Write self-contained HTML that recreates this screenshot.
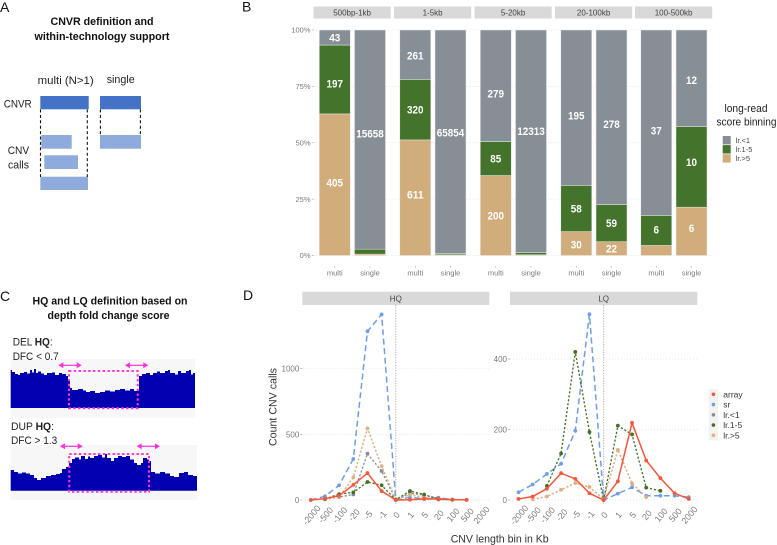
<!DOCTYPE html>
<html lang="en">
<head>
<meta charset="utf-8">
<title>CNVR figure</title>
<style>
html,body{margin:0;padding:0;background:#fff;}
svg{display:block;font-family:"Liberation Sans",sans-serif;filter:blur(.3px);}
.cal{fill:#222;font-size:11px;}
.ttl{fill:#111;font-size:11px;font-weight:bold;text-anchor:middle;}
.pl{fill:#111;font-size:14px;}
.tick{fill:#7a7a7a;font-size:7.5px;}
.strip{fill:#d9d9d9;}
.striptxt{fill:#444;font-size:8px;text-anchor:middle;}
.grid{stroke:#dedede;stroke-width:.7;stroke-dasharray:1 2;fill:none;}
.axt{stroke:#999;stroke-width:.6;}
.val{fill:#fff;font-size:11px;font-weight:bold;text-anchor:middle;}
.leg{fill:#444;font-size:7.5px;}
.dash{stroke:#111;stroke-width:1.1;stroke-dasharray:3 2.4;fill:none;}
.pink{stroke:#ff33dd;stroke-width:2;stroke-dasharray:2.4 2.4;fill:none;}
.arr{stroke:#ff33dd;stroke-width:1.2;fill:none;}
.arh{fill:#ff33dd;}
</style>
</head>
<body>
<svg id="fig" width="777" height="545" viewBox="0 0 777 545" xmlns="http://www.w3.org/2000/svg">
  <rect width="777" height="545" fill="#fff"/>

  <g>
    <text class="pl" x="0" y="12">A</text>
    <text class="ttl" x="102" y="25" textLength="103" lengthAdjust="spacingAndGlyphs">CNVR definition and</text>
    <text class="ttl" x="102" y="40" textLength="135" lengthAdjust="spacingAndGlyphs">within-technology support</text>
    <text class="cal" x="37.7" y="84" textLength="56" lengthAdjust="spacingAndGlyphs">multi (N&gt;1)</text>
    <text class="cal" x="106.7" y="83" textLength="28" lengthAdjust="spacingAndGlyphs">single</text>
    <text class="cal" x="3.7" y="107.5" textLength="28" lengthAdjust="spacingAndGlyphs">CNVR</text>
    <text class="cal" x="7.7" y="154" textLength="21.5" lengthAdjust="spacingAndGlyphs">CNV</text>
    <text class="cal" x="8" y="168.5" textLength="21" lengthAdjust="spacingAndGlyphs">calls</text>
    <rect x="40.3" y="96" width="48.4" height="13.3" fill="#4472c4"/>
    <rect x="100" y="96" width="41" height="13.3" fill="#4472c4"/>
    <rect x="41.3" y="135" width="30.4" height="13.7" fill="#8faadc"/>
    <rect x="44.3" y="155.3" width="33.7" height="13.7" fill="#8faadc"/>
    <rect x="40.3" y="176.7" width="47.7" height="13.3" fill="#8faadc"/>
    <rect x="100" y="135" width="41" height="13.7" fill="#8faadc"/>
    <path class="dash" d="M40.5 109.5V177M87.3 109.5V177M100.4 109.5V135M140.4 109.5V135"/>
  </g>

  <g>
    <text class="pl" x="0" y="301">C</text>
    <text class="ttl" x="110" y="304.5" textLength="155" lengthAdjust="spacingAndGlyphs">HQ and LQ definition based on</text>
    <text class="ttl" x="108.5" y="319" textLength="122" lengthAdjust="spacingAndGlyphs">depth fold change score</text>
    <rect x="10.7" y="359" width="184.3" height="59" fill="#f7f7f7"/>
    <text class="cal" x="12.7" y="345.5" textLength="40" lengthAdjust="spacingAndGlyphs">DEL <tspan font-weight="bold">HQ</tspan>:</text>
    <text class="cal" x="12.7" y="360" textLength="46" lengthAdjust="spacingAndGlyphs">DFC &lt; 0.7</text>
    <polygon fill="#0000b0" points="10.7,408 10.7,370 12,370 12,372 15,372 15,374 18,374 18,375 20,375 20,373 24,373 24,372 27,372 27,373.5 30,373.5 30,370 32,370 32,372.5 34,372.5 34,369 36,369 36,373 38,373 38,371.5 41,371.5 41,373.5 44,373.5 44,375 47,375 47,373 52,373 52,372.5 55,372.5 55,375 59,375 59,373 62,373 62,374 66,374 66,376 68,376 68,381 70,381 70,388 72,388 72,390 78,390 78,389 83,389 83,390.5 86,390.5 86,392 90,392 90,391 95,391 95,393 100,393 100,392 105,392 105,390.5 110,390.5 110,391.5 115,391.5 115,390 120,390 120,389 125,389 125,390.5 130,390.5 130,389 134,389 134,391 137,391 137,390 139,390 139,376 142,376 142,374 146,374 146,373 150,373 150,375 153,375 153,373 157,373 157,371.5 160,371.5 160,373 165,373 165,371 168,371 168,370 170,370 170,373 175,373 175,374.5 178,374.5 178,371 181,371 181,373 186,373 186,371 189,371 189,370 191,370 191,374.5 193,374.5 193,373 195,373 195,408"/>
    <rect class="pink" x="69" y="371" width="68.7" height="37.3"/>
    <g><path class="arr" d="M62 365.3H78"/><path class="arh" d="M58.3 365.3l5-3v6zM81.7 365.3l-5-3v6z"/></g>
    <g><path class="arr" d="M129 365.3H145"/><path class="arh" d="M125 365.3l5-3v6zM148.3 365.3l-5-3v6z"/></g>

    <rect x="10.7" y="445" width="186.3" height="55" fill="#f7f7f7"/>
    <text class="cal" x="11" y="430" textLength="43" lengthAdjust="spacingAndGlyphs">DUP <tspan font-weight="bold">HQ</tspan>:</text>
    <text class="cal" x="11" y="444" textLength="46.3" lengthAdjust="spacingAndGlyphs">DFC &gt; 1.3</text>
    <polygon fill="#0000b0" points="10.7,490.7 10.7,470 14,470 14,472 18,472 18,473.5 22,473.5 22,472.5 26,472.5 26,473.5 30,473.5 30,475 34,475 34,478 37,478 37,480 41,480 41,478 46,478 46,476 51,476 51,475 56,475 56,474 60,474 60,473 62,473 62,469 66,469 66,467 69,467 69,463 72,463 72,459 75,459 75,457.5 79,457.5 79,459.5 81,459.5 81,456 85,456 85,459 88,459 88,456.5 90,456.5 90,458 94,458 94,456 98,456 98,455 102,455 102,457.5 105,457.5 105,454 107,454 107,458 111,458 111,461 114,461 114,458 118,458 118,456 122,456 122,457 126,457 126,456 130,456 130,459.5 134,459.5 134,463 137,463 137,465 141,465 141,463 143,463 143,458 147,458 147,459.5 149,459.5 149,461 151,461 151,472 155,472 155,473.5 160,473.5 160,472 165,472 165,473.5 170,473.5 170,476 174,476 174,477 179,477 179,473 184,473 184,472 188,472 188,475 193,475 193,476 197,476 197,490.7"/>
    <rect class="pink" x="69.3" y="454" width="79.7" height="37.7"/>
    <g><path class="arr" d="M64 446.3H79"/><path class="arh" d="M60 446.3l5-3v6zM82.7 446.3l-5-3v6z"/></g>
    <g><path class="arr" d="M141 446.3H156"/><path class="arh" d="M136.7 446.3l5-3v6zM160 446.3l-5-3v6z"/></g>
  </g>

  <text class="pl" x="242" y="11.5">B</text>
  <text class="pl" x="243" y="300">D</text>
  <g id="panelB"></g>
  <g id="panelD"></g>
</svg>

<script>
/* ---- Panel B data ---- */
const binLabels = ['500bp-1kb', '1-5kb', '5-20kb', '20-100kb', '100-500kb'];
const groupLabels = ['multi', 'single'];
const percentTicks = [0, 25, 50, 75, 100];
const lrLowCounts  = [43, 15658, 261, 65854, 279, 12313, 195, 278, 37, 12];
const lrMidCounts  = [197, 350, 320, 400, 85, 125, 58, 59, 6, 10];
const lrHighCounts = [405, 100, 611, 200, 200, 40, 30, 22, 2, 6];
const stackNames = ['lr.>5', 'lr.1-5', 'lr.<1'];

/* ---- Panel D data ---- */
const lengthBins = ['-2000', '-500', '-100', '-20', '-5', '-1', '0', '1', '5', '20', '100', '500', '2000'];
const hqTicks = [0, 500, 1000];
const lqTicks = [0, 200, 400];
const seriesNames = ['array', 'sr', 'lr.<1', 'lr.1-5', 'lr.>5'];
const hqArray = [0, 10, 33, 115, 205, 68, 0, 2, 8, 8, 3, 1, null];
const hqSr    = [0, 28, 112, 312, 1285, 1414, 0, 20, 10, 18, 3, 2, null];
const hqLow   = [null, 5, 22, 42, 353, 220, 2, 52, 38, 12, 2, 1, null];
const hqMid   = [null, 8, 45, 58, 137, 112, 3, 68, 42, 5, 2, null, null];
const hqHigh  = [null, 8, 25, 172, 545, 258, 5, 40, 20, 5, 1, null, null];
const lqArray = [3, 10, 32, 76, 60, 19, 0, 53, 219, 112, 62, 19, 3];
const lqSr    = [22, 44, 74, 103, 196, 527, 0, 18, 36, 12, 12, 12, 8];
const lqLow   = [null, null, null, null, null, null, null, null, null, null, null, null, null];
const lqMid   = [null, null, 40, 132, 420, 193, 0, 211, 186, 35, 26, null, null];
const lqHigh  = [null, 2, 10, 29, 48, 37, 2, 142, 47, 8, null, null, null];

/* ---- helpers ---- */
const NS = 'http://www.w3.org/2000/svg';
function make(parent, tag, attrs, text) {
  const el = document.createElementNS(NS, tag);
  for (const k in attrs) el.setAttribute(k, attrs[k]);
  if (text !== undefined) el.textContent = text;
  parent.appendChild(el);
  return el;
}
function slug(s) {
  return String(s).replace('<', 'lt-').replace('>', 'gt-').replace(/[^a-zA-Z0-9-]+/g, '-').toLowerCase();
}

/* ---- Panel B ---- */
(function () {
  const root = document.getElementById('panelB');
  const stackColors = ['#d2ad7c', '#44742c', '#878f96'];
  const yTop = 30, yBottom = 255.5;
  const yScale = p => yBottom - (p / 100) * (yBottom - yTop);
  const stripX = [313.5, 394, 474.5, 555, 635];
  const stripW = 77.2, barW = 31;
  const bandX = (facet, g) => stripX[facet] + 21.3 + g * 35.2;
  /* label offsets from segment centre, per bar and stack (tan, green, grey) */
  const labelShift = [
    [-2, 4, 0], [0, 0, -6],
    [-3, 0, 1], [0, 0, -9],
    [0, 0, 8], [0, 0, -10],
    [1, 0, 8], [0, 0, 7],
    [0, -1, 8], [-3, -5, 2]
  ];

  percentTicks.forEach(t => {
    const g = make(root, 'line', {class: 'grid', x1: 313.5, x2: 712, y1: yScale(t), y2: yScale(t)});
    
    
    const m = make(root, 'line', {class: 'axt', x1: 311.8, x2: 313.5, y1: yScale(t), y2: yScale(t)});
    
    
    const l = make(root, 'text', {class: 'tick', x: 310.5, y: yScale(t) + 2.7, 'text-anchor': 'end'}, t + '%');
    
    
  });

  binLabels.forEach((bin, f) => {
    const s = make(root, 'rect', {class: 'strip', x: stripX[f], y: 6.5, width: stripW, height: 12});
    
    
    const st = make(root, 'text', {class: 'striptxt', x: stripX[f] + stripW / 2, y: 15.6}, bin);
    
    

    groupLabels.forEach((grp, g) => {
      const idx = f * 2 + g;
      const vals = [lrHighCounts[idx], lrMidCounts[idx], lrLowCounts[idx]];
      const total = vals[0] + vals[1] + vals[2];
      const cx = bandX(f, g);
      let acc = 0;
      vals.forEach((v, k) => {
        const y0 = yScale(acc / total * 100);
        acc += v;
        const y1 = yScale(acc / total * 100);
        const r = make(root, 'rect', {x: cx - barW / 2, y: y1, width: barW, height: y0 - y1, fill: stackColors[k], stroke: '#e9e9e9', 'stroke-width': 0.5});
        
        
        if (y0 - y1 > 12) {
          const t = make(root, 'text', {class: 'val', x: cx, y: (y0 + y1) / 2 + 3.9 + labelShift[idx][k], textLength: String(v).length * 5.5, lengthAdjust: 'spacingAndGlyphs'}, v);
          
          
        }
      });
      const tk = make(root, 'line', {class: 'axt', x1: cx, x2: cx, y1: 266, y2: 267.6});
      
      
      const tl = make(root, 'text', {class: 'tick', x: cx, y: 275.5, 'text-anchor': 'middle'}, grp);
      
      
    });
  });

  const lt1 = make(root, 'text', {x: 746, y: 112, 'text-anchor': 'middle', fill: '#222', 'font-size': 11, textLength: 43, lengthAdjust: 'spacingAndGlyphs'}, 'long-read');
  
  
  const lt2 = make(root, 'text', {x: 746.5, y: 125.5, 'text-anchor': 'middle', fill: '#222', 'font-size': 11, textLength: 60, lengthAdjust: 'spacingAndGlyphs'}, 'score binning');
  
  

  const legendOrder = [2, 1, 0];
  legendOrder.forEach((k, i) => {
    const y = 136 + i * 9.1;
    const sw = make(root, 'rect', {x: 722.7, y: y, width: 8, height: 8.4, fill: stackColors[k]});
    
    
    const lb = make(root, 'text', {class: 'leg', x: 735.7, y: y + 7}, stackNames[k]);
    
    
  });
})();

/* ---- Panel D ---- */
(function () {
  const root = document.getElementById('panelD');
  const styles = {
    'array':  {color: '#f8553a', dash: '', width: 1.5},
    'sr':     {color: '#6d9eeb', dash: '6 3.5', width: 1.5},
    'lr.<1':  {color: '#878f96', dash: '2.2 1.8', width: 1.3},
    'lr.1-5': {color: '#3f7026', dash: '2.2 1.8', width: 1.3},
    'lr.>5':  {color: '#dcb183', dash: '2.2 1.8', width: 1.5}
  };
  const drawOrder = ['sr', 'lr.<1', 'lr.>5', 'lr.1-5', 'array'];

  function facet(cfg) {
    const g = make(root, 'g', {});
    
    
    const top = 305, zero = 500, bottom = 505;
    const step = (cfg.right - cfg.left) / (lengthBins.length - 1 + 1.2);
    const xScale = i => cfg.left + (0.6 + i) * step;
    const yScale = v => zero - v * cfg.pxPerUnit;

    const s = make(g, 'rect', {class: 'strip', x: cfg.left, y: 291.7, width: cfg.right - cfg.left, height: 13.3});
    
    
    const st = make(g, 'text', {class: 'striptxt', x: (cfg.left + cfg.right) / 2, y: 301.5}, cfg.name);
    
    

    cfg.ticks.forEach(t => {
      const gl = make(g, 'line', {class: 'grid', x1: cfg.left, x2: cfg.right, y1: yScale(t), y2: yScale(t)});
      
      
      const tm = make(g, 'line', {class: 'axt', x1: cfg.left - 2, x2: cfg.left, y1: yScale(t), y2: yScale(t)});
      
      
      const tl = make(g, 'text', {class: 'tick', x: cfg.left - 3, y: yScale(t) + 2.9, 'text-anchor': 'end', style: 'font-size:8px'}, t);
      
      
    });

    const zeroIdx = lengthBins.indexOf('0');
    const v = make(g, 'line', {x1: xScale(zeroIdx), x2: xScale(zeroIdx), y1: top, y2: bottom, stroke: '#a8a8a8', 'stroke-width': 0.9, 'stroke-dasharray': '1.2 1.4'});
    
    

    lengthBins.forEach((lab, i) => {
      const tl = make(g, 'text', {class: 'tick', x: 0, y: 0, 'text-anchor': 'middle', transform: 'translate(' + (xScale(i) + 3) + ' 517) rotate(-50)', style: 'font-size:8.8px'}, lab);
      
      
    });

    drawOrder.forEach(name => {
      const vals = cfg.series[name];
      const st2 = styles[name];
      let d = '', pen = false;
      vals.forEach((val, i) => {
        if (val === null) { pen = false; return; }
        d += (pen ? 'L' : 'M') + xScale(i).toFixed(2) + ' ' + yScale(val).toFixed(2);
        pen = true;
      });
      if (d) {
        const ln = make(g, 'path', {d: d, fill: 'none', stroke: st2.color, 'stroke-width': st2.width, 'stroke-dasharray': st2.dash});
        
        
      }
      vals.forEach((val, i) => {
        if (val === null) return;
        const c = make(g, 'circle', {cx: xScale(i), cy: yScale(val), r: 1.9, fill: st2.color});
        
        
      });
    });
  }

  facet({name: 'HQ', left: 302.3, right: 489.3, pxPerUnit: 0.1313, ticks: hqTicks,
    series: {'array': hqArray, 'sr': hqSr, 'lr.<1': hqLow, 'lr.1-5': hqMid, 'lr.>5': hqHigh}});
  facet({name: 'LQ', left: 510, right: 697.3, pxPerUnit: 0.3525, ticks: lqTicks,
    series: {'array': lqArray, 'sr': lqSr, 'lr.<1': lqLow, 'lr.1-5': lqMid, 'lr.>5': lqHigh}});

  const yt = make(root, 'text', {x: 0, y: 0, 'text-anchor': 'middle', fill: '#333', 'font-size': 11, textLength: 78, lengthAdjust: 'spacingAndGlyphs', transform: 'translate(276.5 407) rotate(-90)'}, 'Count CNV calls');
  
  
  const xt = make(root, 'text', {x: 499.7, y: 542.5, 'text-anchor': 'middle', fill: '#333', 'font-size': 11, textLength: 98, lengthAdjust: 'spacingAndGlyphs'}, 'CNV length bin in Kb');
  
  

  seriesNames.forEach((name, i) => {
    const y = 394.3 + i * 10.25;
    const k = make(root, 'rect', {x: 708.7, y: y - 5.1, width: 9.4, height: 10.25, fill: '#f2f2f2'});
    
    
    const c = make(root, 'circle', {cx: 713.4, cy: y, r: 1.8, fill: styles[name].color});
    
    
    const t = make(root, 'text', {x: 723.3, y: y + 3, fill: '#333', 'font-size': 8.5}, name);
    
    
  });
})();
</script>
</body>
</html>
